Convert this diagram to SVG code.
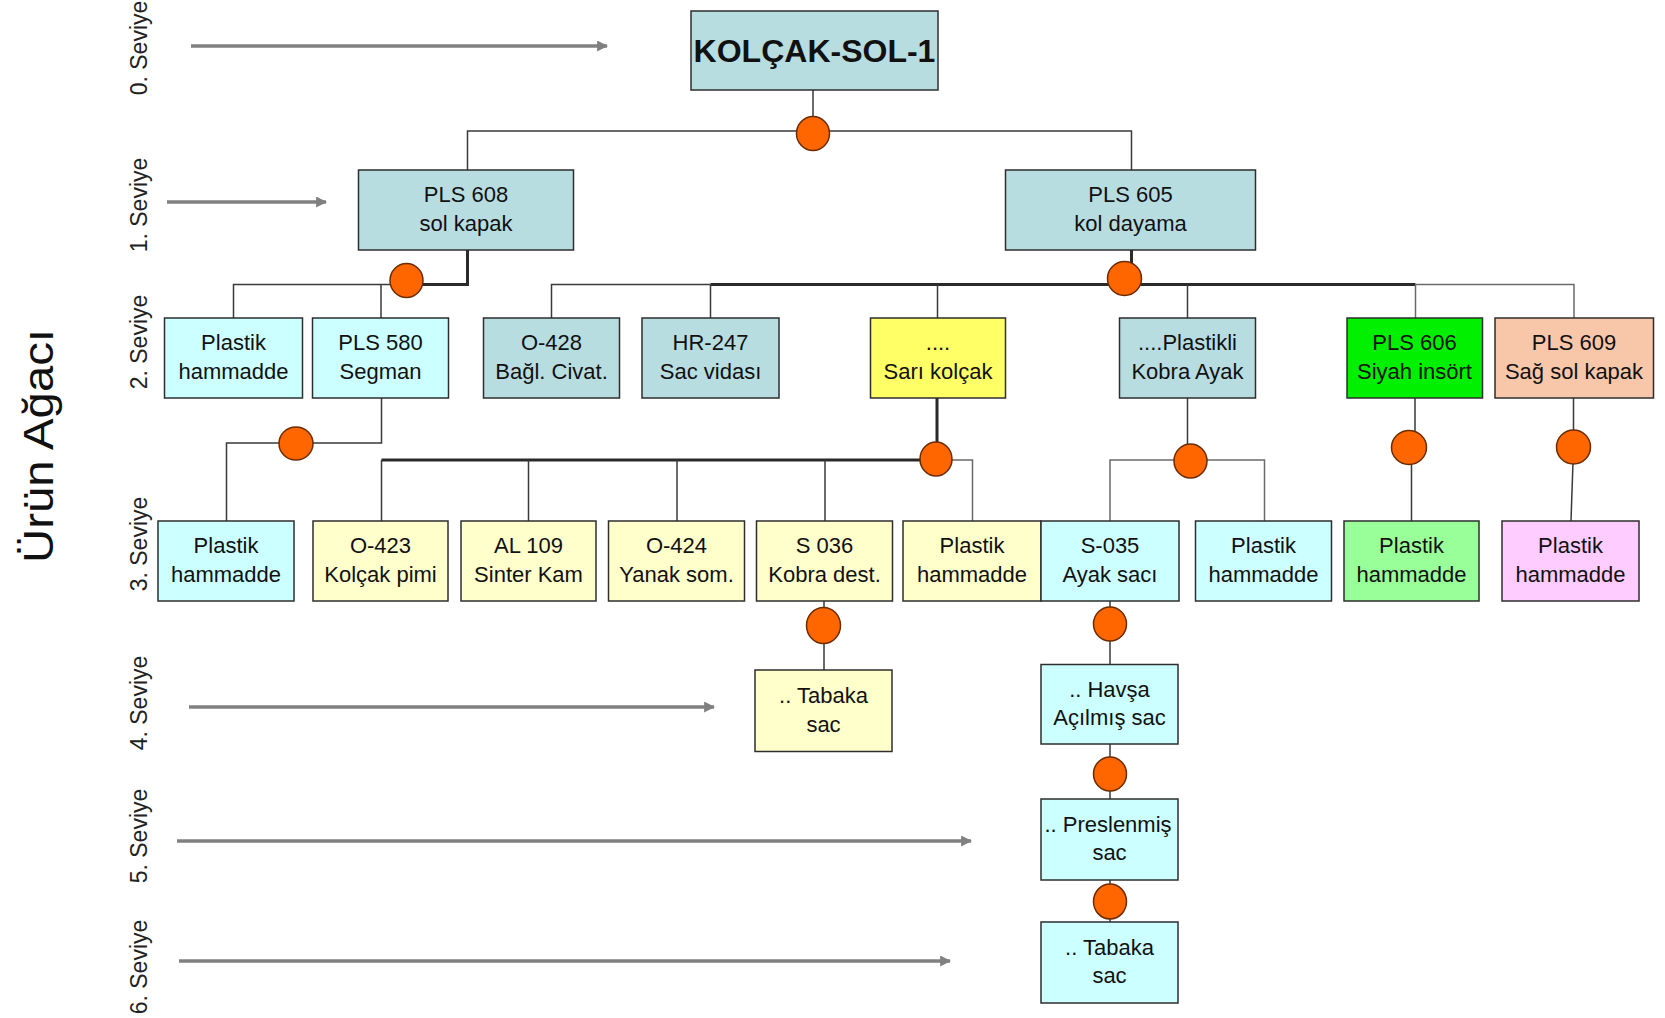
<svg xmlns="http://www.w3.org/2000/svg" width="1665" height="1018" viewBox="0 0 1665 1018">
<style>
  text { font-family: "Liberation Sans", Arial, sans-serif; fill: #111; }
  .n { font-size: 22px; text-anchor: middle; }
  .title { font-size: 32px; font-weight: bold; text-anchor: middle; }
  .lvl { font-size: 23px; text-anchor: middle; fill: #222; }
  .big { font-size: 42px; text-anchor: middle; fill: #111; }
  .box { stroke: #2e2e2e; stroke-width: 1.5; }
  .teal { fill: #b8dde1; }
  .cyan { fill: #ccffff; }
  .yel { fill: #ffff66; }
  .ly { fill: #ffffcc; }
  .grn { fill: #00f000; }
  .peach { fill: #f8c6a8; }
  .lg { fill: #99ff99; }
  .pink { fill: #ffccff; }
  .c { stroke: #3a3a3a; stroke-width: 1.5; fill: none; }
  .ct { stroke: #2a2a2a; stroke-width: 3; fill: none; }
  .cg { stroke: #6a6a6a; stroke-width: 1.5; fill: none; }
  .dot { fill: #ff6600; stroke: #6b2c00; stroke-width: 1.5; }
  .arr { stroke: #808080; stroke-width: 3.5; fill: none; marker-end: url(#ah); }
</style>
<defs>
  <marker id="ah" viewBox="0 0 10 10" markerWidth="11" markerHeight="11" markerUnits="userSpaceOnUse" refX="9" refY="5" orient="auto">
    <path d="M0,0 L10,5 L0,10 z" fill="#808080"/>
  </marker>
</defs>
<rect width="1665" height="1018" fill="#ffffff"/>

<!-- Side labels -->
<g id="labels">
  <text class="big" transform="translate(53,446) rotate(-90)" textLength="234" lengthAdjust="spacingAndGlyphs">Ürün Ağacı</text>
  <text class="lvl" transform="translate(147,48) rotate(-90)">0. Seviye</text>
  <text class="lvl" transform="translate(147,205) rotate(-90)">1. Seviye</text>
  <text class="lvl" transform="translate(147,342) rotate(-90)">2. Seviye</text>
  <text class="lvl" transform="translate(147,544) rotate(-90)">3. Seviye</text>
  <text class="lvl" transform="translate(147,703) rotate(-90)">4. Seviye</text>
  <text class="lvl" transform="translate(147,836) rotate(-90)">5. Seviye</text>
  <text class="lvl" transform="translate(147,967) rotate(-90)">6. Seviye</text>
</g>

<!-- Level arrows -->
<g id="arrows">
  <line class="arr" x1="191" y1="46" x2="607" y2="46"/>
  <line class="arr" x1="167" y1="202" x2="326" y2="202"/>
  <line class="arr" x1="189" y1="707" x2="714" y2="707"/>
  <line class="arr" x1="177" y1="841" x2="971" y2="841"/>
  <line class="arr" x1="179" y1="961" x2="950" y2="961"/>
</g>

<!-- Connectors -->
<g id="connectors">
  <!-- L0 -> L1 -->
  <polyline class="c" points="813,90 813,131"/>
  <polyline class="c" points="467.5,170 467.5,131 1131.5,131 1131.5,170"/>
  <!-- PLS 608 -> L2 -->
  <polyline class="ct" points="467.5,250 467.5,284.5 406,284.5"/>
  <polyline class="c" points="406,284.5 233.5,284.5 233.5,318"/>
  <line class="c" x1="381" y1="284.5" x2="381" y2="318"/>
  <!-- PLS 605 -> L2 -->
  <line class="ct" x1="1131.5" y1="250" x2="1131.5" y2="284.5"/>
  <polyline class="c" points="551.5,318 551.5,284.5 710.5,284.5"/>
  <line class="ct" x1="710.5" y1="284.5" x2="1415.5" y2="284.5"/>
  <polyline class="cg" points="1415.5,284.5 1574,284.5 1574,318"/>
  <line class="c" x1="710.5" y1="284.5" x2="710.5" y2="318"/>
  <line class="c" x1="937.5" y1="284.5" x2="937.5" y2="318"/>
  <line class="c" x1="1187.5" y1="284.5" x2="1187.5" y2="318"/>
  <line class="cg" x1="1415.5" y1="284.5" x2="1415.5" y2="318"/>
  <!-- PLS 580 -> Plastik -->
  <polyline class="c" points="381.5,398 381.5,443 226.5,443 226.5,521"/>
  <!-- Sari kolcak -> L3 -->
  <line class="ct" x1="937" y1="398" x2="937" y2="460"/>
  <line class="ct" x1="381.5" y1="460" x2="937" y2="460"/>
  <polyline class="cg" points="937,460 972.5,460 972.5,521"/>
  <line class="c" x1="381.5" y1="460" x2="381.5" y2="521"/>
  <line class="c" x1="528.5" y1="460" x2="528.5" y2="521"/>
  <line class="c" x1="677" y1="460" x2="677" y2="521"/>
  <line class="c" x1="825" y1="460" x2="825" y2="521"/>
  <!-- Plastikli Kobra Ayak -> L3 -->
  <line class="c" x1="1187.5" y1="398" x2="1187.5" y2="460"/>
  <polyline class="cg" points="1110,521 1110,460 1264.5,460 1264.5,521"/>
  <!-- PLS 606 / PLS 609 -->
  <polyline class="c" points="1415,398 1415,447 1411.5,447 1411.5,521"/>
  <line class="c" x1="1573.5" y1="398" x2="1573.5" y2="447"/>
  <line class="c" x1="1573.5" y1="447" x2="1571" y2="521"/>
  <!-- L3 -> L4.. -->
  <line class="c" x1="824" y1="601" x2="824" y2="670"/>
  <line class="c" x1="1110" y1="601" x2="1110" y2="664.5"/>
  <line class="c" x1="1110" y1="744" x2="1110" y2="799"/>
  <line class="c" x1="1110" y1="880" x2="1110" y2="922"/>
  <!-- junction dots -->
  <ellipse class="dot" cx="813" cy="133.5" rx="16.5" ry="17"/>
  <ellipse class="dot" cx="406.5" cy="280.5" rx="16.5" ry="17"/>
  <ellipse class="dot" cx="1124.5" cy="278.5" rx="17" ry="17"/>
  <ellipse class="dot" cx="296" cy="443.5" rx="17" ry="16.5"/>
  <ellipse class="dot" cx="936" cy="459" rx="16" ry="17"/>
  <ellipse class="dot" cx="1190.5" cy="461" rx="16.5" ry="17"/>
  <ellipse class="dot" cx="1409" cy="447.5" rx="17.5" ry="17"/>
  <ellipse class="dot" cx="1573.5" cy="447" rx="17" ry="17"/>
  <ellipse class="dot" cx="823.5" cy="625.5" rx="17" ry="18"/>
  <ellipse class="dot" cx="1110" cy="624" rx="16.5" ry="17"/>
  <ellipse class="dot" cx="1110" cy="774" rx="16.5" ry="17"/>
  <ellipse class="dot" cx="1110" cy="901.5" rx="16.5" ry="17.5"/>
</g>

<!-- Level 0 -->
<g id="n-kolcak-sol-1">
  <rect class="box teal" x="691" y="11" width="247" height="79"/>
  <text class="title" x="814.5" y="61.5">KOLÇAK-SOL-1</text>
</g>

<!-- Level 1 -->
<g id="n-pls608">
  <rect class="box teal" x="358.5" y="170" width="215" height="80"/>
  <text class="n" x="466" y="202">PLS 608</text>
  <text class="n" x="466" y="230.5">sol kapak</text>
</g>
<g id="n-pls605">
  <rect class="box teal" x="1005.5" y="170" width="250" height="80"/>
  <text class="n" x="1130.5" y="202">PLS 605</text>
  <text class="n" x="1130.5" y="230.5">kol dayama</text>
</g>

<!-- Level 2 -->
<g id="n-plastik-l2">
  <rect class="box cyan" x="164.5" y="318" width="138" height="80"/>
  <text class="n" x="233.5" y="350">Plastik</text>
  <text class="n" x="233.5" y="378.5">hammadde</text>
</g>
<g id="n-pls580">
  <rect class="box cyan" x="312.5" y="318" width="136" height="80"/>
  <text class="n" x="380.5" y="350">PLS 580</text>
  <text class="n" x="380.5" y="378.5">Segman</text>
</g>
<g id="n-o428">
  <rect class="box teal" x="483.5" y="318" width="136" height="80"/>
  <text class="n" x="551.5" y="350">O-428</text>
  <text class="n" x="551.5" y="378.5">Bağl. Civat.</text>
</g>
<g id="n-hr247">
  <rect class="box teal" x="642" y="318" width="137" height="80"/>
  <text class="n" x="710.5" y="350">HR-247</text>
  <text class="n" x="710.5" y="378.5">Sac vidası</text>
</g>
<g id="n-sari-kolcak">
  <rect class="box yel" x="870.5" y="318" width="135" height="80"/>
  <text class="n" x="938" y="350">....</text>
  <text class="n" x="938" y="378.5">Sarı kolçak</text>
</g>
<g id="n-plastikli-kobra">
  <rect class="box teal" x="1119.5" y="318" width="136" height="80"/>
  <text class="n" x="1187.5" y="350">....Plastikli</text>
  <text class="n" x="1187.5" y="378.5">Kobra Ayak</text>
</g>
<g id="n-pls606">
  <rect class="box grn" x="1347" y="318" width="135.5" height="80"/>
  <text class="n" x="1414.5" y="350">PLS 606</text>
  <text class="n" x="1414.5" y="378.5">Siyah insört</text>
</g>
<g id="n-pls609">
  <rect class="box peach" x="1495" y="318" width="158.5" height="80"/>
  <text class="n" x="1574" y="350">PLS 609</text>
  <text class="n" x="1574" y="378.5">Sağ sol kapak</text>
</g>

<!-- Level 3 -->
<g id="n-plastik-l3a">
  <rect class="box cyan" x="158" y="521" width="136" height="80"/>
  <text class="n" x="226" y="553">Plastik</text>
  <text class="n" x="226" y="581.5">hammadde</text>
</g>
<g id="n-o423">
  <rect class="box ly" x="313" y="521" width="135" height="80"/>
  <text class="n" x="380.5" y="553">O-423</text>
  <text class="n" x="380.5" y="581.5">Kolçak pimi</text>
</g>
<g id="n-al109">
  <rect class="box ly" x="461" y="521" width="135" height="80"/>
  <text class="n" x="528.5" y="553">AL 109</text>
  <text class="n" x="528.5" y="581.5">Sinter Kam</text>
</g>
<g id="n-o424">
  <rect class="box ly" x="608.5" y="521" width="136" height="80"/>
  <text class="n" x="676.5" y="553">O-424</text>
  <text class="n" x="676.5" y="581.5">Yanak som.</text>
</g>
<g id="n-s036">
  <rect class="box ly" x="756.5" y="521" width="136" height="80"/>
  <text class="n" x="824.5" y="553">S 036</text>
  <text class="n" x="824.5" y="581.5">Kobra dest.</text>
</g>
<g id="n-plastik-l3b">
  <rect class="box ly" x="903" y="521" width="138" height="80"/>
  <text class="n" x="972" y="553">Plastik</text>
  <text class="n" x="972" y="581.5">hammadde</text>
</g>
<g id="n-s035">
  <rect class="box cyan" x="1041" y="521" width="138" height="80"/>
  <text class="n" x="1110" y="553">S-035</text>
  <text class="n" x="1110" y="581.5">Ayak sacı</text>
</g>
<g id="n-plastik-l3c">
  <rect class="box cyan" x="1195.5" y="521" width="136" height="80"/>
  <text class="n" x="1263.5" y="553">Plastik</text>
  <text class="n" x="1263.5" y="581.5">hammadde</text>
</g>
<g id="n-plastik-l3d">
  <rect class="box lg" x="1344" y="521" width="135" height="80"/>
  <text class="n" x="1411.5" y="553">Plastik</text>
  <text class="n" x="1411.5" y="581.5">hammadde</text>
</g>
<g id="n-plastik-l3e">
  <rect class="box pink" x="1502" y="521" width="137" height="80"/>
  <text class="n" x="1570.5" y="553">Plastik</text>
  <text class="n" x="1570.5" y="581.5">hammadde</text>
</g>

<!-- Level 4..6 -->
<g id="n-tabaka-l4">
  <rect class="box ly" x="755" y="670" width="137" height="81.5"/>
  <text class="n" x="823.5" y="703">.. Tabaka</text>
  <text class="n" x="823.5" y="731.5">sac</text>
</g>
<g id="n-havsa">
  <rect class="box cyan" x="1041" y="664.5" width="137" height="79.5"/>
  <text class="n" x="1109.5" y="696.5">.. Havşa</text>
  <text class="n" x="1109.5" y="725">Açılmış sac</text>
</g>
<g id="n-preslenmis">
  <rect class="box cyan" x="1041" y="799" width="137" height="81"/>
  <text class="n" x="1108" y="831.5">.. Preslenmiş</text>
  <text class="n" x="1109.5" y="860">sac</text>
</g>
<g id="n-tabaka-l6">
  <rect class="box cyan" x="1041" y="922" width="137" height="81"/>
  <text class="n" x="1109.5" y="954.5">.. Tabaka</text>
  <text class="n" x="1109.5" y="983">sac</text>
</g>
</svg>
